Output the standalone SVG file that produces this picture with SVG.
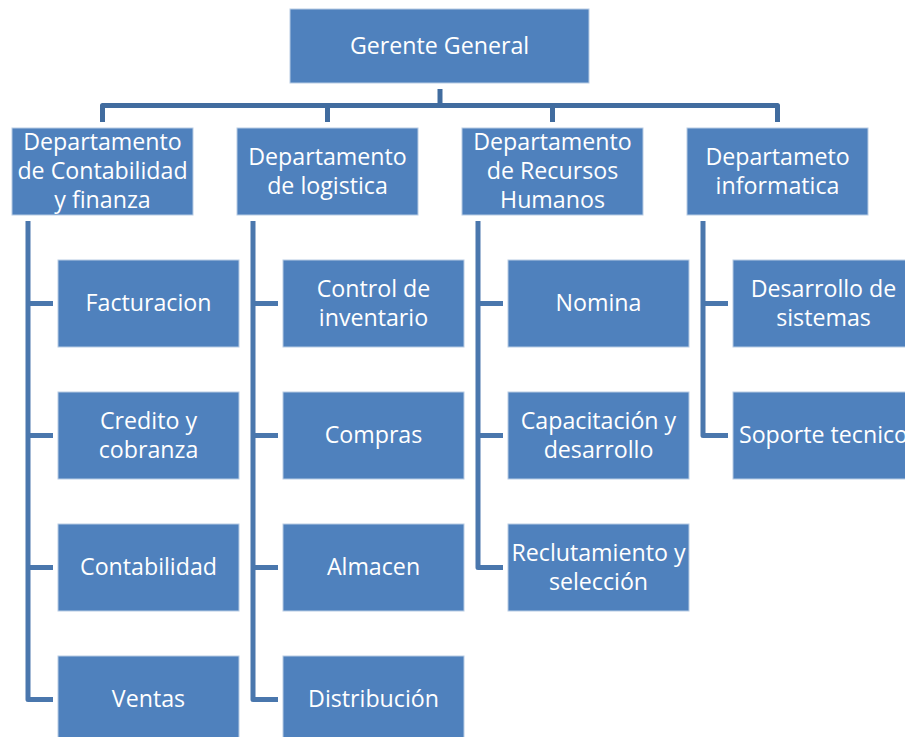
<svg xmlns="http://www.w3.org/2000/svg" width="905" height="737" viewBox="0 0 905 737">
<style>
.box{fill:#4f81bd;stroke:#b8cce4;stroke-width:1}
.t{fill:#ffffff;font-family:"Open Sans","Liberation Sans",sans-serif;font-size:23.2px;text-anchor:middle}
.c{fill:none;stroke:#416c9f;stroke-width:5;stroke-linejoin:round}
.s{fill:none;stroke:#4a77ad;stroke-width:5;stroke-linejoin:round}
</style>
<rect width="905" height="737" fill="#ffffff"/>
<g id="connectors">
<path class="c" d="M440,89 V105.5"/>
<path class="c" d="M102.5,122 V105.5 H777.5 V122"/>
<path class="c" d="M327.5,105.5 V122"/>
<path class="c" d="M552.5,105.5 V122"/>
<path class="s" d="M28,221 V699.5 H53 M28,303.5 H53 M28,435.5 H53 M28,567.5 H53"/>
<path class="s" d="M253,221 V699.5 H278 M253,303.5 H278 M253,435.5 H278 M253,567.5 H278"/>
<path class="s" d="M478,221 V567.5 H503 M478,303.5 H503 M478,435.5 H503"/>
<path class="s" d="M703,221 V435.5 H728 M703,303.5 H728"/>
</g>
<g id="gerente"><rect class="box" x="290" y="9" width="299" height="74"/><text class="t" x="439.5" y="54">Gerente General</text></g>
<g id="dep-contabilidad"><rect class="box" x="12" y="128" width="181" height="87"/><text class="t" x="102.5" y="150">Departamento</text><text class="t" x="102.5" y="179">de Contabilidad</text><text class="t" x="102.5" y="208">y finanza</text></g>
<g id="dep-logistica"><rect class="box" x="237" y="128" width="181" height="87"/><text class="t" x="327.5" y="165">Departamento</text><text class="t" x="327.5" y="194">de logistica</text></g>
<g id="dep-rrhh"><rect class="box" x="462" y="128" width="181" height="87"/><text class="t" x="552.5" y="150">Departamento</text><text class="t" x="552.5" y="179">de Recursos</text><text class="t" x="552.5" y="208">Humanos</text></g>
<g id="dep-informatica"><rect class="box" x="687" y="128" width="181" height="87"/><text class="t" x="777.5" y="165">Departameto</text><text class="t" x="777.5" y="194">informatica</text></g>
<g id="facturacion"><rect class="box" x="58" y="260" width="181" height="87"/><text class="t" x="148.5" y="311">Facturacion</text></g>
<g id="credito"><rect class="box" x="58" y="392" width="181" height="87"/><text class="t" x="148.5" y="428.5">Credito y</text><text class="t" x="148.5" y="457.5">cobranza</text></g>
<g id="contabilidad"><rect class="box" x="58" y="524" width="181" height="87"/><text class="t" x="148.5" y="575">Contabilidad</text></g>
<g id="ventas"><rect class="box" x="58" y="656" width="181" height="87"/><text class="t" x="148.5" y="707">Ventas</text></g>
<g id="control-inventario"><rect class="box" x="283" y="260" width="181" height="87"/><text class="t" x="373.5" y="296.5">Control de</text><text class="t" x="373.5" y="325.5">inventario</text></g>
<g id="compras"><rect class="box" x="283" y="392" width="181" height="87"/><text class="t" x="373.5" y="443">Compras</text></g>
<g id="almacen"><rect class="box" x="283" y="524" width="181" height="87"/><text class="t" x="373.5" y="575">Almacen</text></g>
<g id="distribucion"><rect class="box" x="283" y="656" width="181" height="87"/><text class="t" x="373.5" y="707">Distribución</text></g>
<g id="nomina"><rect class="box" x="508" y="260" width="181" height="87"/><text class="t" x="598.5" y="311">Nomina</text></g>
<g id="capacitacion"><rect class="box" x="508" y="392" width="181" height="87"/><text class="t" x="598.5" y="428.5">Capacitación y</text><text class="t" x="598.5" y="457.5">desarrollo</text></g>
<g id="reclutamiento"><rect class="box" x="508" y="524" width="181" height="87"/><text class="t" x="598.5" y="560.5">Reclutamiento y</text><text class="t" x="598.5" y="589.5">selección</text></g>
<g id="desarrollo-sistemas"><rect class="box" x="733" y="260" width="181" height="87"/><text class="t" x="823.5" y="296.5">Desarrollo de</text><text class="t" x="823.5" y="325.5">sistemas</text></g>
<g id="soporte"><rect class="box" x="733" y="392" width="181" height="87"/><text class="t" x="823.5" y="443">Soporte tecnico</text></g>
</svg>
